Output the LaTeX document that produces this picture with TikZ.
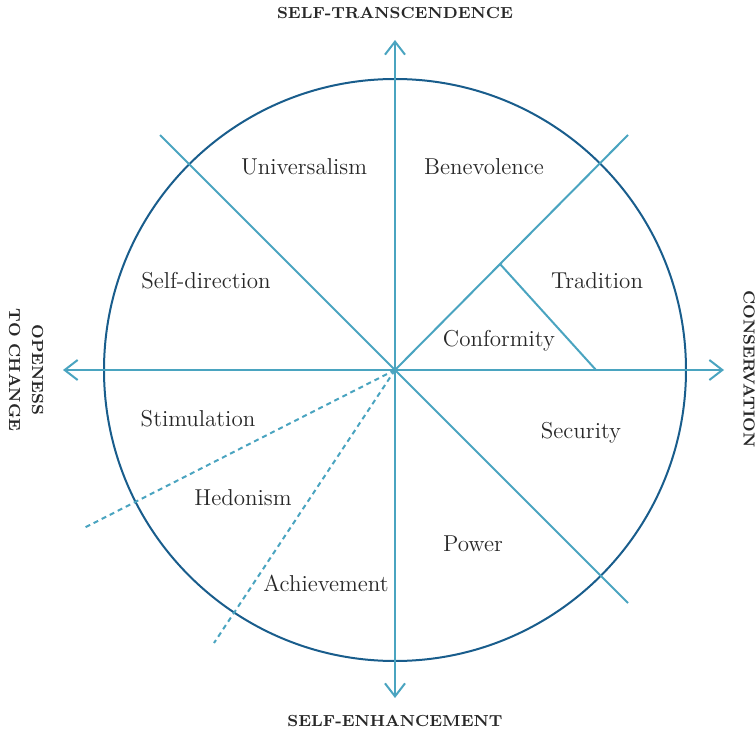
\documentclass[tikz,border=0pt]{standalone}
\usepackage{fontspec}
\usetikzlibrary{arrows.meta}
\definecolor{ringblue}{RGB}{25,93,140}
\definecolor{axisblue}{RGB}{74,164,192}
\definecolor{inkgray}{RGB}{40,40,40}

\begin{document}
\begin{tikzpicture}[x=0.5pt, y=-0.5pt,
    >={Straight Barb[length=6.5pt, width=10pt]},
    axis/.style={draw=axisblue, line width=1pt},
    dotline/.style={axis, dash pattern=on 2.5pt off 2pt},
    value/.style={text=inkgray, font=\fontsize{11.5}{14}\selectfont},
    pole/.style={text=inkgray, align=center,
        font=\fontsize{8}{11.5}\selectfont\bfseries\addfontfeature{LetterSpace=5}}]
\useasboundingbox (0,0) rectangle (756,733);
\coordinate (o) at (395,370);
\coordinate (top) at (395,40);
\coordinate (bot) at (395,698);
\coordinate (left) at (63,370);
\coordinate (right) at (724,370);
\coordinate (nw) at (160,135);
\coordinate (ne) at (628,135);
\coordinate (se) at (628,603);
\coordinate (tri) at (500,264);
\coordinate (tribase) at (596,370);
\coordinate (dotA) at (84,528);
\coordinate (dotB) at (214,643);
% ring and axes
\draw [ringblue, line width=1pt] (o) circle (291);
\draw [axis, <->] (bot) -- (top);
\draw [axis, <->] (left) -- (right);
\draw [axis] (nw) -- (o) -- (ne);
\draw [axis] (o) -- (se);
\draw [axis] (tri) -- (tribase);
\draw [dotline] (o) -- (dotA);
\draw [dotline] (o) -- (dotB);
% values
\node [value] (univ) at (304,167) {Universalism};
\node [value] (bene) at (484,167) {Benevolence};
\node [value] (selfdir) at (206,281) {Self-direction};
\node [value] (trad) at (597,281) {Tradition};
\node [value] (conf) at (499,341) {Conformity};
\node [value] (stim) at (198,419) {Stimulation};
\node [value] (secu) at (581,433) {Security};
\node [value] (hedo) at (243,498) {Hedonism};
\node [value] (powr) at (473,544) {Power};
\node [value] (achv) at (326,583) {Achievement};
% poles
\node [pole] (trans) at (395,13) {SELF-TRANSCENDENCE};
\node [pole] (enh) at (395,721) {SELF-ENHANCEMENT};
\node [pole, rotate=-90] (open) at (26,370) {OPENESS\\TO CHANGE};
\node [pole, rotate=-90] (cons) at (749,369) {CONSERVATION};
\end{tikzpicture}
\end{document}
